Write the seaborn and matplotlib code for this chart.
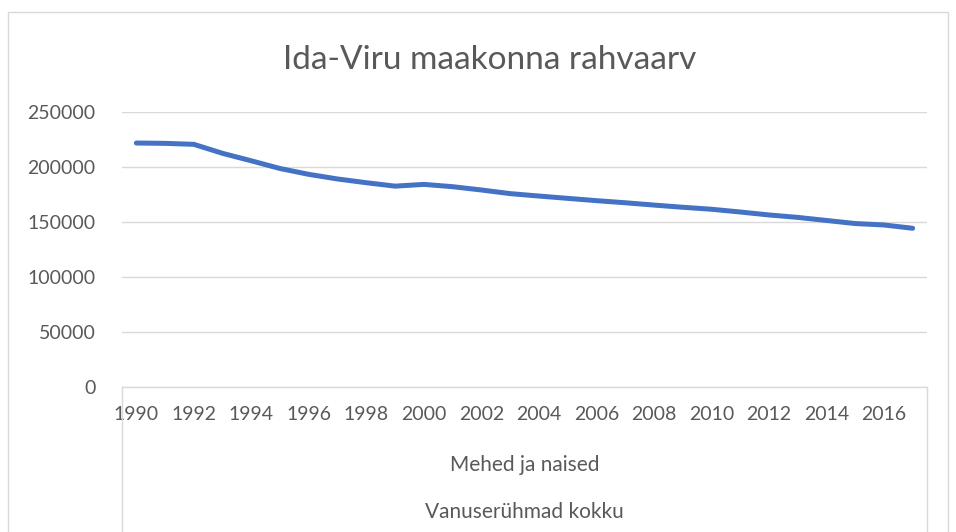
import matplotlib
matplotlib.use("Agg")
import matplotlib.pyplot as plt
import matplotlib.patches as mpatches
from matplotlib.lines import Line2D
import seaborn as sns
import pandas as pd

# Ida-Viru county population, men and women, all age groups
years = list(range(1990, 2018))
population = [
    221800, 221500, 220600, 212400, 205600, 198600, 193300, 189100,
    185700, 182600, 184200, 182100, 179100, 175800, 173600, 171500,
    169400, 167500, 165400, 163400, 161600, 159100, 156400, 154200,
    151400, 148600, 147300, 144300,
]
tick_years = list(range(1990, 2017, 2))
y_ticks = [0, 50000, 100000, 150000, 200000, 250000]
title = "Ida-Viru maakonna rahvaarv"
level2 = "Mehed ja naised"
level3 = "Vanuserühmad kokku"

TEXT = "#595959"
GRID = "#D9D9D9"
LINE = "#4472C4"

sns.set_style("white")
plt.rcParams["font.family"] = ["Lato", "DejaVu Sans"]

df = pd.DataFrame({"pos": range(len(years)), "pop": population})

W, H = 956, 532
fig = plt.figure(figsize=(W / 100, H / 100), dpi=100)
ax = fig.add_axes([122 / W, 1 - 387 / H, (927 - 122) / W, (387 - 112) / H])

sns.lineplot(data=df, x="pos", y="pop", ax=ax, color=LINE, linewidth=3.6,
             solid_capstyle="round", solid_joinstyle="round")

ax.set_xlim(-0.5, len(years) - 0.5)
ax.set_ylim(0, 250000)
ax.set_yticks(y_ticks)
ax.set_yticklabels([str(v) for v in y_ticks])
ax.set_xticks([years.index(y) for y in tick_years])
ax.set_xticklabels([str(y) for y in tick_years])
ax.tick_params(axis="both", length=0, labelsize=14, colors=TEXT)
ax.tick_params(axis="y", pad=19)
ax.tick_params(axis="x", pad=14)
ax.yaxis.grid(True, color=GRID, linewidth=1.0)
ax.set_axisbelow(True)
for side in ["left", "right", "top"]:
    ax.spines[side].set_visible(False)
ax.spines["bottom"].set_color(GRID)
ax.spines["bottom"].set_linewidth(1.0)
ax.set_xlabel("")
ax.set_ylabel("")

# multi-level category axis labels and separators
fig.add_artist(Line2D([122 / W, 122 / W], [0, 1 - 387 / H], color=GRID, lw=1.0))
fig.add_artist(Line2D([927 / W, 927 / W], [0, 1 - 387 / H], color=GRID, lw=1.0))
fig.text((122 + 927) / 2 / W, 1 - 465 / H, level2, ha="center", va="center",
         fontsize=15, color=TEXT)
fig.text((122 + 927) / 2 / W, 1 - 512 / H, level3, ha="center", va="center",
         fontsize=15, color=TEXT)

fig.text(490 / W, 1 - 60 / H, title, ha="center", va="center",
         fontsize=24, color=TEXT)

# chart border
fig.add_artist(mpatches.Rectangle((8 / W, -0.05), 940 / W, 1.05 - 12 / H,
                                  fill=False, edgecolor=GRID, lw=1.0))

fig.savefig("out.png", dpi=100, facecolor="white")
